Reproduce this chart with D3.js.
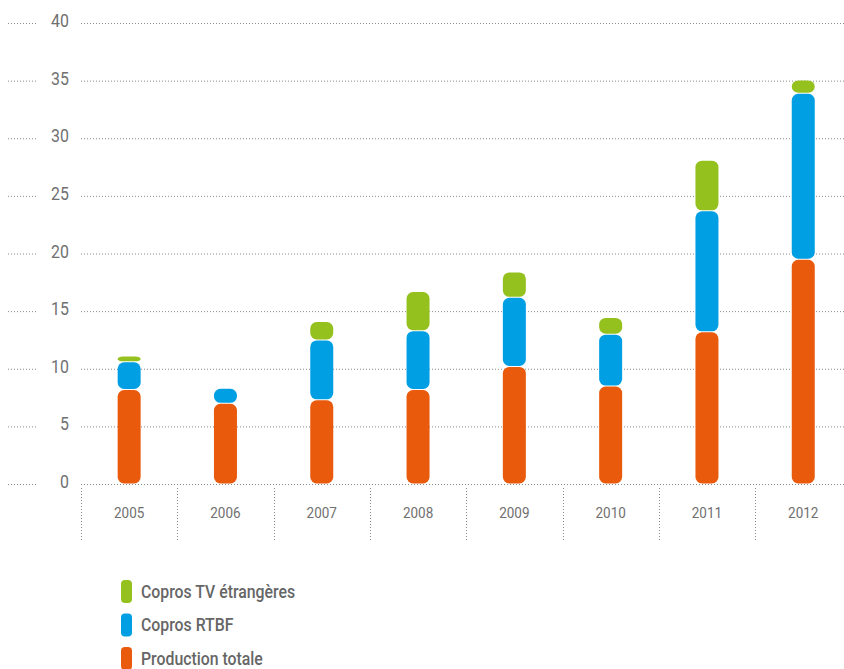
<!DOCTYPE html>
<html><head><meta charset="utf-8">
<script src="https://cdn.jsdelivr.net/npm/d3@7/dist/d3.min.js"></script>
<style>
html,body{margin:0;padding:0;background:#fff;}
svg{display:block;font-family:Roboto, "Liberation Sans", sans-serif;}
</style></head>
<body>
<svg id="chart" width="844" height="669"></svg>
<script>
const years = ["2005","2006","2007","2008","2009","2010","2011","2012"];
const production = [8.2, 7.0, 7.3, 8.2, 10.2, 8.5, 13.2, 19.5];
const coprosRTBF = [2.4, 1.3, 5.2, 5.1, 6.0, 4.5, 10.5, 14.4];
const coprosTV = [0.5, 0, 1.6, 3.4, 2.2, 1.45, 4.4, 1.15];
const yTicks = [0, 5, 10, 15, 20, 25, 30, 35, 40];
const seriesNames = ["Production totale", "Copros RTBF", "Copros TV étrangères"];
const seriesColors = ["#e95a0c", "#009fe3", "#95c11f"];

const svg = d3.select("#chart");
const x0 = 81, bandW = 96.3;
const x = d3.scaleBand().domain(years).range([x0, x0 + bandW * years.length]).paddingInner(0).paddingOuter(0);
const y = d3.scaleLinear().domain([0, 40]).range([484, 23]);

const grid = "#8a8a8a";
const g = svg.append("g");
yTicks.forEach(t => {
  g.append("line").attr("x1", x0).attr("x2", 844).attr("y1", y(t) + 0.5).attr("y2", y(t) + 0.5)
    .attr("stroke", grid).attr("stroke-width", 1).attr("stroke-dasharray", "1,2");
  g.append("line").attr("x1", 8).attr("x2", 37).attr("y1", y(t) + 0.5).attr("y2", y(t) + 0.5)
    .attr("stroke", grid).attr("stroke-width", 1).attr("stroke-dasharray", "1,2");
});
const yAxis = svg.append("g").attr("transform", "translate(69,0)")
  .call(d3.axisLeft(y).tickValues(yTicks).tickSize(0).tickPadding(0));
yAxis.select(".domain").remove();
yAxis.selectAll("text").attr("font-size", 18.5).attr("fill", "#707070")
  .attr("font-family", "Roboto, sans-serif").attr("dy", "0.19em")
  .attr("transform", "scale(0.86,1)");

const seps = d3.range(0, years.length + 1).map(i => x0 + i * bandW);
seps.forEach(sx => {
  svg.append("line").attr("x1", Math.round(sx) + 0.5).attr("x2", Math.round(sx) + 0.5).attr("y1", 488).attr("y2", 541)
    .attr("stroke", grid).attr("stroke-dasharray", "1,2");
});
const xAxis = svg.append("g").attr("transform", "translate(0,507)")
  .call(d3.axisBottom(x).tickSize(0).tickPadding(0));
xAxis.select(".domain").remove();
xAxis.selectAll("text").attr("font-size", 15).attr("fill", "#707070").attr("font-family", "Roboto, sans-serif")
  .attr("transform", "scale(0.9,1)");

const data = years.map((yr, i) => ({year: yr, p: production[i], r: coprosRTBF[i], t: coprosTV[i]}));
const stack = d3.stack().keys(["p", "r", "t"])(data);
const barW = 23, r = 6.5;
stack.forEach((layer, li) => {
  svg.append("g").selectAll("rect").data(layer.filter(d => d[1] - d[0] > 0)).join("rect")
    .attr("x", d => x(d.data.year) + x.bandwidth() / 2 - barW / 2)
    .attr("width", barW)
    .attr("y", d => y(d[1]) + 0.5)
    .attr("height", d => Math.max(1, y(d[0]) - y(d[1]) - 1))
    .attr("rx", d => Math.min(r, (y(d[0]) - y(d[1]) - 1) / 2 + 3))
    .attr("ry", d => Math.min(r, (y(d[0]) - y(d[1]) - 1) / 2))
    .attr("fill", seriesColors[li]);
});

const legOrder = [2, 1, 0];
const lg = svg.append("g");
legOrder.forEach((si, k) => {
  const ly = 580 + k * 33.5;
  lg.append("rect").attr("x", 121).attr("y", ly).attr("width", 11).attr("height", 23).attr("rx", 4)
    .attr("fill", seriesColors[si]);
  lg.append("text").attr("transform", `translate(141,${ly + 17.5}) scale(0.88,1)`)
    .attr("font-size", 18).attr("font-weight", 500).attr("fill", "#666")
    .attr("font-family", "Roboto, sans-serif").text(seriesNames[si]);
});
</script>
</body></html>
